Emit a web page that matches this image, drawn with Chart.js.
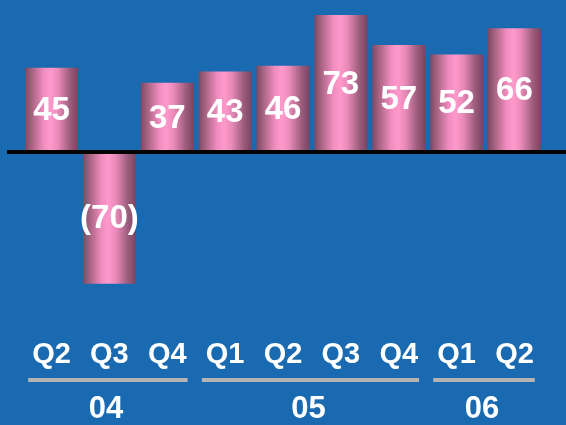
<!DOCTYPE html>
<html>
<head>
<meta charset="utf-8">
<script src="https://cdn.jsdelivr.net/npm/chart.js@4/dist/chart.umd.min.js"></script>
<style>
  html, body { margin: 0; padding: 0; background: #196ab1; }
  #wrap { width: 566px; height: 425px; }
</style>
</head>
<body>
<div id="wrap"><canvas id="c" width="566" height="425"></canvas></div>
<script>
const quarters = ["Q2", "Q3", "Q4", "Q1", "Q2", "Q3", "Q4", "Q1", "Q2"];
const values = [45, -70, 37, 43, 46, 73, 57, 52, 66];
const valueLabels = ["45", "(70)", "37", "43", "46", "73", "57", "52", "66"];
const years = ["04", "05", "06"];
const yearStart = [0, 3, 7];
const yearEnd = [2, 6, 8];

const FONT = "'Liberation Sans', Arial, sans-serif";
const BAR_PCT = 0.915;

function barGradient(ctx) {
  const chart = ctx.chart;
  const xs = chart.scales.x;
  if (!xs || !chart.chartArea) return '#ff99cc';
  const cx = xs.getPixelForValue(ctx.dataIndex);
  const w = (xs.width / quarters.length) * BAR_PCT;
  const g = chart.ctx.createLinearGradient(cx - w / 2, 0, cx + w / 2, 0);
  g.addColorStop(0, '#7c4864');
  g.addColorStop(0.12, '#a4627f');
  g.addColorStop(0.35, '#f08cbf');
  g.addColorStop(0.48, '#ff99cc');
  g.addColorStop(0.62, '#ea8bba');
  g.addColorStop(0.85, '#9c5c7c');
  g.addColorStop(1, '#784560');
  return g;
}

const decor = {
  id: 'decor',
  beforeDraw(chart) {
    const c = chart.ctx;
    c.save();
    c.fillStyle = '#196ab1';
    c.fillRect(0, 0, chart.width, chart.height);
    c.restore();
  },
  afterDatasetsDraw(chart) {
    const c = chart.ctx;
    const xs = chart.scales.x, ys = chart.scales.y;
    const meta = chart.getDatasetMeta(0);
    c.save();
    // value labels
    c.fillStyle = '#ffffff';
    c.font = "bold 33px " + FONT;
    c.textAlign = 'center';
    c.textBaseline = 'middle';
    meta.data.forEach((bar, i) => {
      const mid = (bar.y + bar.base) / 2;
      c.fillText(valueLabels[i], bar.x, mid + 1);
    });
    // zero line
    const y0 = ys.getPixelForValue(0);
    c.fillStyle = '#000000';
    c.fillRect(7, Math.round(y0) - 2, chart.width - 7, 4);
    // group lines and year labels
    c.font = "bold 29px " + FONT;
    const half = i => c.measureText(quarters[i]).width / 2;
    years.forEach((yr, k) => {
      c.font = "bold 29px " + FONT;
      const l = xs.getPixelForValue(yearStart[k]) - half(yearStart[k]) - 4;
      const r = xs.getPixelForValue(yearEnd[k]) + half(yearEnd[k]) + 1;
      c.fillStyle = '#b4b4b4';
      c.fillRect(l, 378, r - l, 4);
      c.fillStyle = '#ffffff';
      c.font = "bold 31px " + FONT;
      c.textAlign = 'center';
      c.textBaseline = 'middle';
      c.fillText(yr, (l + r) / 2 - 2, 409);
    });
    c.restore();
  }
};

new Chart(document.getElementById('c'), {
  type: 'bar',
  data: {
    labels: quarters,
    datasets: [{
      data: values,
      backgroundColor: barGradient,
      borderWidth: 0,
      barPercentage: BAR_PCT,
      categoryPercentage: 1
    }]
  },
  options: {
    responsive: false,
    animation: false,
    events: [],
    layout: { padding: { left: 22, right: 22, top: 0, bottom: 0 } },
    plugins: { legend: { display: false }, tooltip: { enabled: false } },
    scales: {
      y: { display: false, min: -82, max: 81 },
      x: {
        grid: { display: false, drawTicks: false },
        border: { display: false },
        afterFit: s => { s.height = 118.6; },
        ticks: {
          color: '#ffffff',
          padding: 31,
          maxRotation: 0,
          autoSkip: false,
          font: { family: FONT, size: 29, weight: 'bold', lineHeight: 1.2 }
        }
      }
    }
  },
  plugins: [decor]
});
</script>
</body>
</html>
